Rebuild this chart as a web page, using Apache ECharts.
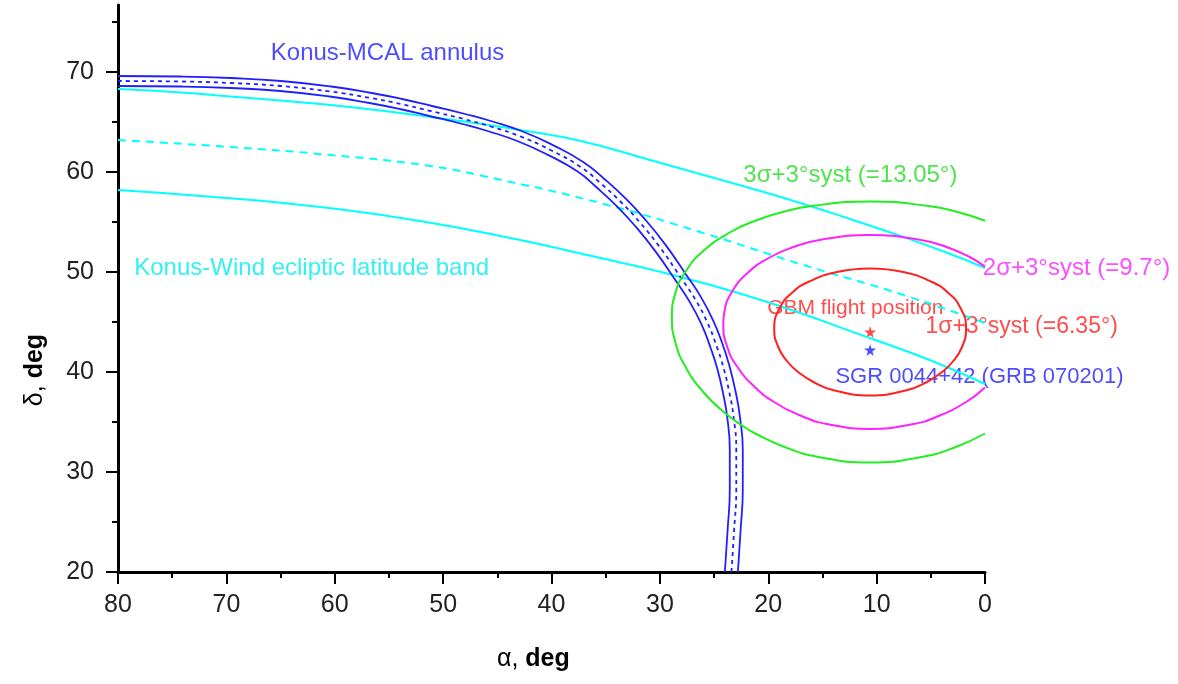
<!DOCTYPE html>
<html>
<head>
<meta charset="utf-8">
<title>Konus-MCAL annulus / GBM position</title>
<script src="https://cdn.jsdelivr.net/npm/echarts@6/dist/echarts.min.js"></script>
<style>
  html, body { margin: 0; padding: 0; background: #fff; }
  #chart { width: 1178px; height: 684px; }
</style>
</head>
<body>
<div id="chart"></div>
<script>
// all points are [alpha, delta] in degrees
const annulusOuter = [[80, 69.6], [74.2, 69.55], [69.6, 69.4], [64.96, 69.1], [60.33, 68.55], [56.6, 67.9], [53.8, 67.3], [51.03, 66.6], [47.98, 65.8], [45.45, 65.05], [42.66, 64.05], [39.87, 62.69], [37.01, 60.96], [35.15, 59.33], [33.22, 57.41], [31.39, 55.29], [29.51, 52.76], [27.64, 49.83], [26.22, 47.51], [25.09, 45.16], [24.26, 42.92], [23.6, 40.67], [23.03, 38.12], [22.62, 35.56], [22.35, 32.2], [22.35, 28.2], [22.55, 24.2], [22.8, 20]]
const annulusMid = [[80, 69.1], [74.2, 69.05], [69.6, 68.9], [65.0, 68.6], [60.4, 68.05], [56.7, 67.4], [53.9, 66.8], [51.15, 66.1], [48.1, 65.3], [45.6, 64.55], [42.85, 63.55], [40.1, 62.2], [37.3, 60.5], [35.5, 58.9], [33.6, 57.0], [31.8, 54.9], [29.95, 52.4], [28.1, 49.5], [26.7, 47.2], [25.6, 44.9], [24.8, 42.7], [24.15, 40.5], [23.6, 38.0], [23.2, 35.5], [22.95, 32.2], [22.95, 28.2], [23.15, 24.2], [23.4, 20]]
const annulusInner = [[80, 68.6], [74.2, 68.55], [69.6, 68.4], [65.04, 68.1], [60.47, 67.55], [56.8, 66.9], [54.0, 66.3], [51.27, 65.6], [48.22, 64.8], [45.75, 64.05], [43.04, 63.05], [40.33, 61.71], [37.59, 60.04], [35.85, 58.47], [33.98, 56.59], [32.21, 54.51], [30.39, 52.04], [28.56, 49.17], [27.18, 46.89], [26.11, 44.64], [25.34, 42.48], [24.7, 40.33], [24.17, 37.88], [23.78, 35.44], [23.55, 32.2], [23.55, 28.2], [23.75, 24.2], [24.0, 20]]

const bandTop = [[80, 68.3], [74.2, 67.95], [69.6, 67.55], [65.0, 67.15], [60.4, 66.7], [55.8, 66.15], [48.4, 65.1], [42.9, 64.2], [37.3, 63.1], [30.9, 61.2], [26.3, 59.8], [21.7, 58.4], [17.05, 56.9], [12.45, 55.3], [7.8, 53.6], [3.2, 51.8], [0, 50.4]]
const bandMid = [[80, 63.2], [69.6, 62.5], [60.4, 61.7], [51.15, 60.6], [45.9, 59.5], [35.5, 56.9], [26.3, 54.0], [17.05, 50.8], [7.8, 47.8], [0, 44.9]]
const bandBottom = [[80, 58.2], [72.35, 57.6], [63.1, 56.7], [53.9, 55.4], [44.7, 53.6], [35.5, 51.4], [28.1, 49.5], [20.1, 47.0], [10.9, 43.5], [5.1, 41.2], [0, 38.8]]

// error circles around the GBM position (drawn in alpha/delta, so they look egg-shaped)
const sigma1 = [[10.6, 50.35], [7.54, 50.0], [4.89, 49.0], [3.48, 48.0], [2.31, 46.5], [1.75, 44.34], [2.12, 42.5], [3.0, 41.0], [3.96, 40.0], [5.36, 39.0], [7.16, 38.2], [10.6, 37.65], [14.04, 38.2], [15.84, 39.0], [17.24, 40.0], [18.2, 41.0], [19.08, 42.5], [19.45, 44.34], [18.89, 46.5], [17.72, 48.0], [16.31, 49.0], [13.66, 50.0], [10.6, 50.35]]
const sigma2 = [[0, 50.54], [1.41, 51.5], [3.55, 52.5], [5.92, 53.2], [10.6, 53.7], [15.28, 53.2], [17.65, 52.5], [19.79, 51.5], [21.81, 50.0], [23.36, 48.0], [24.05, 46.0], [24.15, 44.8], [23.78, 42.5], [22.84, 40.5], [21.24, 38.5], [19.46, 37.0], [16.7, 35.5], [14.59, 34.8], [10.6, 34.3], [6.61, 34.8], [4.5, 35.5], [1.74, 37.0], [0, 38.45]]
const sigma3 = [[0, 55.13], [2.53, 56.0], [5.21, 56.6], [10.6, 57.05], [15.99, 56.6], [18.67, 56.0], [21.2, 55.13], [23.48, 54.0], [26.1, 52.0], [27.66, 50.0], [28.54, 48.0], [28.89, 45.5], [28.58, 43.0], [27.63, 40.5], [26.0, 38.0], [24.11, 36.0], [22.21, 34.5], [21.2, 33.85], [18.5, 32.5], [15.37, 31.5], [10.6, 30.95], [5.83, 31.5], [2.7, 32.5], [0, 33.85]]

const gbmPos = [10.6, 44.0]
const sgrPos = [10.6, 42.2]

const yMajor = [20, 30, 40, 50, 60, 70]
const yMinor = [25, 35, 45, 55, 65, 75]

// annotation texts with their anchor (left edge, vertical middle) in data coords
const notes = [
  { text: 'Konus-MCAL annulus', at: [65.9, 71.9], color: '#2020ff', size: 24 },
  { text: 'Konus-Wind ecliptic latitude band', at: [78.5, 50.4], color: '#00eeee', size: 24 },
  { text: '3σ+3°syst (=13.05°)', at: [22.3, 59.7], color: '#22dd22', size: 24 },
  { text: '2σ+3°syst (=9.7°)', at: [0.2, 50.4], color: '#ff22ff', size: 24 },
  { text: 'GBM flight position', at: [20.1, 46.4], color: '#ff2020', size: 21 },
  { text: '1σ+3°syst (=6.35°)', at: [5.5, 44.5], color: '#ff2020', size: 23 },
  { text: 'SGR 0044+42 (GRB 070201)', at: [13.8, 39.5], color: '#2020ff', size: 22 }
]

const FONT = 'Liberation Sans, Arial, sans-serif'
const STAR = 'path://M50,0 L61,35 L98,35 L68,57 L79,91 L50,70 L21,91 L32,57 L2,35 L39,35 Z'

function curve (data, color, type, width) {
  return {
    type: 'line',
    data: data,
    showSymbol: false,
    symbol: 'none',
    smooth: 0.5,
    lineStyle: { color: color, width: width, type: type },
    silent: true,
    animation: false
  }
}

const chart = echarts.init(document.getElementById('chart'))
chart.setOption({
  backgroundColor: '#fff',
  animation: false,
  grid: { left: 118, right: 193, top: 5, bottom: 112 },
  xAxis: {
    type: 'value',
    min: 0,
    max: 80,
    interval: 10,
    inverse: true,
    axisLine: { onZero: false, lineStyle: { color: '#000', width: 3 } },
    axisTick: { length: 12, lineStyle: { color: '#000', width: 2 } },
    minorTick: { show: true, splitNumber: 2, length: 6, lineStyle: { color: '#000', width: 2 } },
    splitLine: { show: false },
    axisLabel: { fontSize: 25, color: '#222', margin: 21, fontFamily: FONT }
  },
  yAxis: [{
    type: 'value',
    min: 20,
    max: 76.7,
    interval: 10,
    axisLine: { onZero: false, lineStyle: { color: '#000', width: 3 } },
    axisTick: { customValues: yMajor, length: 12, lineStyle: { color: '#000', width: 2 } },
    splitLine: { show: false },
    axisLabel: { customValues: yMajor, fontSize: 25, color: '#222', margin: 24, fontFamily: FONT }
  }, {
    type: 'value',
    min: 20,
    max: 76.7,
    position: 'left',
    axisLine: { show: false, onZero: false },
    axisTick: { customValues: yMinor, length: 6, lineStyle: { color: '#000', width: 2 } },
    splitLine: { show: false },
    axisLabel: { show: false }
  }],
  graphic: [{
    type: 'text',
    left: 497,
    top: 647,
    style: {
      text: '{a|α, }{b|deg}',
      rich: {
        a: { fontSize: 25, fontFamily: FONT, fill: '#000' },
        b: { fontSize: 25, fontFamily: FONT, fontWeight: 'bold', fill: '#000' }
      }
    }
  }, {
    type: 'text',
    x: 35,
    y: 370,
    rotation: Math.PI / 2,
    style: {
      text: '{a|δ, }{b|deg}',
      align: 'center',
      verticalAlign: 'middle',
      rich: {
        a: { fontSize: 25, fontFamily: FONT, fill: '#000' },
        b: { fontSize: 25, fontFamily: FONT, fontWeight: 'bold', fill: '#000' }
      }
    }
  }],
  series: [
    curve(bandTop, '#00ffff', 'solid', 2),
    curve(bandMid, '#00ffff', [8, 6], 2),
    curve(bandBottom, '#00ffff', 'solid', 2),
    curve(annulusOuter, '#2020ff', 'solid', 1.8),
    curve(annulusMid, '#2020ff', [4, 4], 1.8),
    curve(annulusInner, '#2020ff', 'solid', 1.8),
    curve(sigma3, '#22ee22', 'solid', 2),
    curve(sigma2, '#ff22ff', 'solid', 2),
    curve(sigma1, '#ff2020', 'solid', 2),
    {
      type: 'scatter',
      symbol: STAR,
      symbolSize: 12,
      silent: true,
      data: [
        { value: gbmPos, itemStyle: { color: '#ff2020' } },
        { value: sgrPos, itemStyle: { color: '#2020ff' } }
      ]
    },
    {
      type: 'scatter',
      symbolSize: 0,
      clip: false,
      silent: true,
      data: notes.map(n => ({
        value: n.at,
        name: n.text,
        label: {
          show: true,
          position: 'right',
          distance: 0,
          formatter: '{b}',
          color: n.color,
          fontSize: n.size,
          fontFamily: FONT
        }
      }))
    }
  ]
})
</script>
</body>
</html>
